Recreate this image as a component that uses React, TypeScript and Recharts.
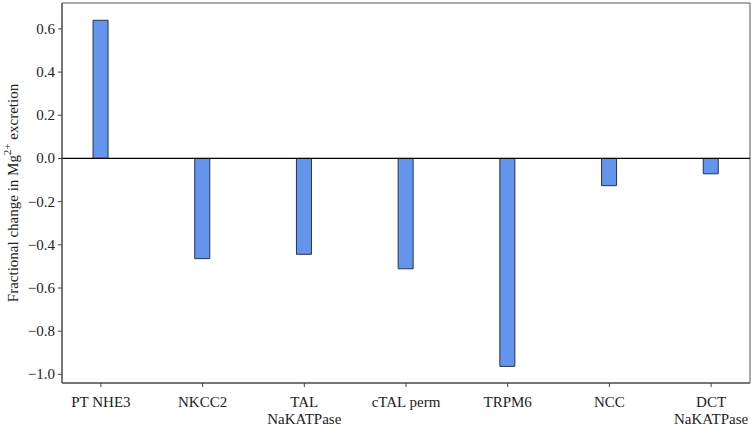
import {
  Bar,
  BarChart,
  ReferenceArea,
  ReferenceLine,
  XAxis,
  YAxis,
} from "recharts";

const CATEGORIES = [
  "PT NHE3",
  "NKCC2",
  "TAL\nNaKATPase",
  "cTAL perm",
  "TRPM6",
  "NCC",
  "DCT\nNaKATPase",
];

const MG_CHANGE = [0.64, -0.464, -0.444, -0.511, -0.963, -0.126, -0.071];

const Y_TICKS = [-1.0, -0.8, -0.6, -0.4, -0.2, 0.0, 0.2, 0.4, 0.6];

const X_DOMAIN: [number, number] = [-0.3825, 6.3825];
const Y_DOMAIN: [number, number] = [-1.04, 0.72];

const FONT = "Liberation Serif, Times New Roman, serif";
const INK = "#222";

const data = CATEGORIES.map((name, i) => ({ x: i, name, value: MG_CHANGE[i] }));

function CategoryTick(props: any) {
  const { x, y, payload } = props;
  const lines = String(CATEGORIES[payload.value] ?? "").split("\n");
  return (
    <text
      x={x}
      y={y + 18}
      textAnchor="middle"
      style={{ fontFamily: FONT }}
      fontSize={15}
      fill={INK}
    >
      {lines.map((line, i) => (
        <tspan key={i} x={x} dy={i === 0 ? 0 : 17}>
          {line}
        </tspan>
      ))}
    </text>
  );
}

function YTick(props: any) {
  const { x, y, payload } = props;
  return (
    <text
      x={x}
      y={y}
      textAnchor="end"
      dominantBaseline="central"
      style={{ fontFamily: FONT }}
      fontSize={15}
      fill={INK}
    >
      {fmt(payload.value)}
    </text>
  );
}

function YLabel(props: any) {
  const { viewBox } = props;
  const cy = viewBox.y + viewBox.height / 2;
  const cx = 13;
  return (
    <text
      x={cx}
      y={cy}
      transform={`rotate(-90, ${cx}, ${cy})`}
      textAnchor="middle"
      dominantBaseline="central"
      style={{ fontFamily: FONT }}
      fontSize={15}
      fill={INK}
    >
      Fractional change in Mg
      <tspan dy={-6} fontSize={11}>2+</tspan>
      <tspan dy={6}> excretion</tspan>
    </text>
  );
}

function fmt(v: number) {
  const s = Math.abs(v).toFixed(1);
  return v < -1e-9 ? `\u2212${s}` : s;
}

export default function App() {
  return (
    <div style={{ position: "absolute", left: 0, top: 0, background: "#fff" }}>
      <BarChart
        width={751}
        height={428}
        data={data}
        margin={{ top: 3, right: 1, bottom: 0, left: 0 }}
      >
        <XAxis
          dataKey="x"
          type="number"
          height={45}
          domain={X_DOMAIN}
          ticks={[0, 1, 2, 3, 4, 5, 6]}
          allowDataOverflow
          axisLine={{ stroke: "#444" }}
          tickLine={{ stroke: "#444" }}
          tickSize={4}
          tick={<CategoryTick />}
          interval={0}
        />
        <YAxis
          type="number"
          width={62}
          domain={Y_DOMAIN}
          ticks={Y_TICKS}
          allowDataOverflow
          axisLine={{ stroke: "#444" }}
          tickLine={{ stroke: "#444" }}
          tickSize={4}
          tickMargin={3}
          tick={<YTick />}
          interval={0}
          label={<YLabel />}
        />
        <ReferenceArea
          x1={X_DOMAIN[0]}
          x2={X_DOMAIN[1]}
          y1={Y_DOMAIN[0]}
          y2={Y_DOMAIN[1]}
          fill="none"
          stroke="#555"
          strokeWidth={1}
        />
        <Bar
          dataKey="value"
          barSize={15}
          fill="#6495ED"
          stroke="#26324f"
          strokeWidth={1}
          isAnimationActive={false}
        />
        <ReferenceLine y={0} stroke="#000" strokeWidth={1.2} />
      </BarChart>
    </div>
  );
}
